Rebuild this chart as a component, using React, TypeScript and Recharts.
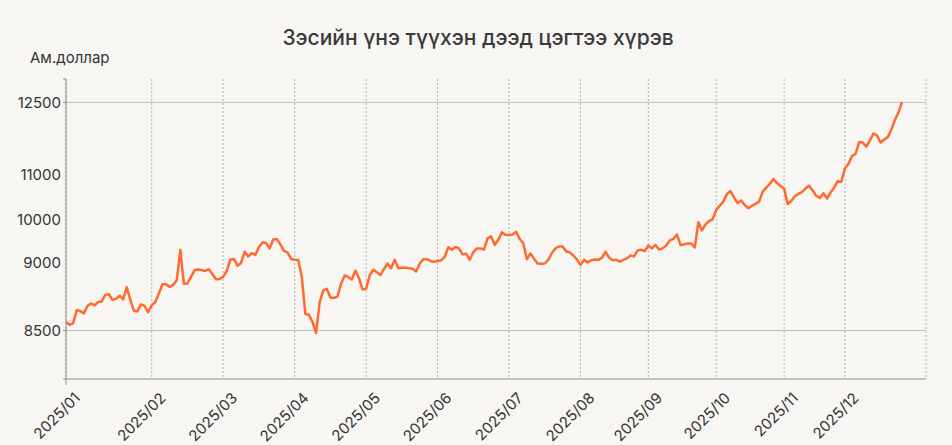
import { LineChart, Line, XAxis, YAxis, CartesianGrid, ReferenceLine } from 'recharts';

// copper price, USD per tonne, one list per month
const months = ['2025/01', '2025/02', '2025/03', '2025/04', '2025/05', '2025/06', '2025/07', '2025/08', '2025/09', '2025/10', '2025/11', '2025/12'];

const jan = [8650, 8600, 8630, 8860, 8840, 8800, 8930, 8975, 8940, 9000, 9010, 9125, 9135, 9040, 9055, 9110, 9045, 9260, 9040, 8845, 8835, 8960, 8930, 8820];
const feb = [8940, 9000, 9150, 9310, 9310, 9265, 9300, 9380, 9910, 9320, 9325, 9440, 9560, 9570, 9560, 9545, 9575, 9485, 9400, 9405];
const mar = [9440, 9545, 9740, 9755, 9635, 9685, 9880, 9800, 9855, 9825, 9965, 10045, 10035, 9940, 10095, 10105, 10010, 9895, 9870, 9755];
const apr = [9740, 9735, 9440, 8790, 8775, 8650, 8455, 8995, 9205, 9230, 9080, 9070, 9100, 9320, 9465, 9440, 9395, 9550, 9420, 9220];
const may = [9230, 9465, 9565, 9520, 9475, 9580, 9675, 9590, 9740, 9590, 9600, 9605, 9590, 9585, 9535, 9675, 9750, 9750, 9720, 9705];
const jun = [9720, 9730, 9790, 9960, 9915, 9965, 9940, 9835, 9845, 9740, 9870, 9940, 9940, 9920, 10115, 10150, 10000, 10090, 10220, 10180];
const jul = [10175, 10185, 10230, 10105, 10030, 9750, 9850, 9760, 9675, 9670, 9675, 9740, 9860, 9940, 9975, 9975, 9885, 9870, 9815, 9745];
const aug = [9650, 9740, 9695, 9730, 9745, 9740, 9775, 9880, 9780, 9730, 9740, 9710, 9740, 9765, 9815, 9800, 9905, 9915, 9895];
const sep = [9990, 9940, 10000, 9920, 9940, 9990, 10080, 10105, 10185, 10000, 10010, 10025, 10025, 9955, 10400, 10255, 10360, 10420, 10450];
const oct = [10615, 10690, 10760, 10895, 10945, 10830, 10735, 10780, 10700, 10645, 10685, 10720, 10760, 10935, 11005, 11070, 11155, 11085, 11035];
const nov = [10990, 10720, 10770, 10855, 10895, 10925, 10990, 11040, 10955, 10860, 10825, 10905, 10815, 10920, 11005, 11120, 11105];
const dec = [11340, 11420, 11560, 11595, 11805, 11795, 11725, 11830, 11955, 11920, 11795, 11850, 11890, 12020, 12190, 12320, 12505];

const monthValues = [jan, feb, mar, apr, may, jun, jul, aug, sep, oct, nov, dec];

// the y labels sit where the original put them
const yTicks = [7650, 8500, 9690, 10440, 11230, 12500, 12910];
const yTickLabels = ['', '8500', '9000', '10000', '11000', '12500', ''];
const yTickMarked = [true, true, false, false, false, true, true];
const gridLevels = [8500, 12500];

const data = months.flatMap((m, mi) => monthValues[mi].map((v, k) => ({ day: `${m}#${k}`, price: v })));
const monthTicks = months.map(m => `${m}#0`);

const FONT = "Inter, 'Noto Sans', sans-serif";
const TEXT = '#333333';
const AXIS = '#8c8c8c';

function YTick(props: any) {
    const { x, y, payload } = props;
    const i = yTicks.indexOf(payload.value);
    return (
        <g>
            {yTickMarked[i] && <line x1={x + 2} x2={x + 5} y1={y} y2={y} stroke={AXIS} />}
            <text x={x} y={y} textAnchor="end" dominantBaseline="central" fontSize={15} fontFamily={FONT} fill={TEXT}>
                {yTickLabels[i]}
            </text>
        </g>
    );
}

function XTick(props: any) {
    const { x, y, payload, index } = props;
    const label = String(payload.value).split('#')[0];
    return (
        <g>
            {index === 0 && <line x1={x} x2={x} y1={y} y2={y + 6} stroke={AXIS} />}
            <text transform={`translate(${x + 15},${y + 20}) rotate(-45)`} textAnchor="end" fontSize={15} fontFamily={FONT} fill={TEXT}>
                {label}
            </text>
        </g>
    );
}

export default function App() {
    return (
        <div style={{ position: 'relative', width: 952, height: 445, background: '#f7f6f2', fontFamily: FONT, color: TEXT }}>
            <style>{'body{margin:0;background:#f7f6f2}'}</style>
            <div style={{ position: 'absolute', top: 24, left: 2, width: 952, textAlign: 'center', fontSize: 21, fontWeight: 500, lineHeight: '28px', color: '#3a3a3a' }}>
                Зэсийн үнэ түүхэн дээд цэгтээ хүрэв
            </div>
            <div style={{ position: 'absolute', top: 48, left: 30, fontSize: 15, lineHeight: '20px' }}>Ам.доллар</div>
            <LineChart width={952} height={445} data={data} margin={{ top: 79, right: 26, bottom: 6, left: 6 }}>
                <CartesianGrid horizontal={false} strokeDasharray="2 2" stroke="#b3b3b3" />
                <XAxis
                    dataKey="day"
                    ticks={monthTicks}
                    interval={0}
                    tick={<XTick />}
                    tickLine={false}
                    tickSize={0}
                    tickMargin={0}
                    height={60}
                    padding={{ left: 0, right: 24 }}
                    axisLine={{ stroke: AXIS }}
                />
                <YAxis
                    type="number"
                    domain={[7650, 12910]}
                    ticks={yTicks}
                    interval={0}
                    allowDataOverflow
                    tick={<YTick />}
                    tickLine={false}
                    tickSize={5}
                    tickMargin={0}
                    width={60}
                    axisLine={{ stroke: AXIS }}
                />
                {gridLevels.map(v => <ReferenceLine key={v} y={v} stroke="#bdbdbd" />)}
                <Line
                    type="linear"
                    dataKey="price"
                    stroke="#ff6a2e"
                    strokeWidth={2.5}
                    strokeLinejoin="round"
                    dot={false}
                    isAnimationActive={false}
                />
            </LineChart>
        </div>
    );
}
